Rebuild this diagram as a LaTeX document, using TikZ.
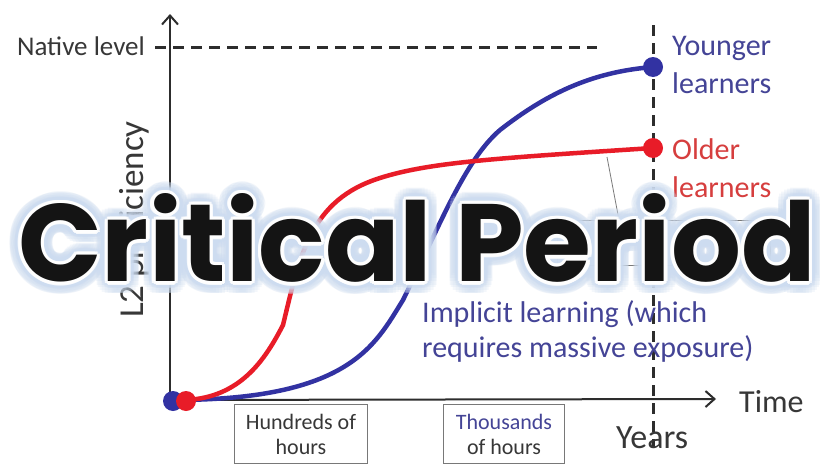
\documentclass[tikz,border=0pt]{standalone}
\usepackage{fontspec}
\setmainfont{Carlito}
\newfontfamily\titlefont{Poppins}
\usetikzlibrary{arrows.meta}
\definecolor{cblue}{RGB}{50,50,162}
\definecolor{tblue}{RGB}{68,68,150}
\definecolor{cred}{RGB}{232,28,40}
\definecolor{tred}{RGB}{214,62,62}
\definecolor{axisgray}{RGB}{45,45,45}
\definecolor{txtgray}{RGB}{55,55,55}
\definecolor{boxgray}{RGB}{120,120,120}
\definecolor{glowblue}{RGB}{205,220,240}
\newcommand{\crittitle}{\resizebox{797pt}{88pt}{\titlefont\bfseries Critical Period}}
\begin{document}
\begin{tikzpicture}[x=1pt,y=-1pt,
  axisline/.style={line width=2pt, draw=axisgray},
  guide/.style={line width=3pt, draw=axisgray, dash pattern=on 11pt off 7pt},
  curveblue/.style={line width=4.5pt, draw=cblue, line cap=round},
  curvered/.style={line width=4.5pt, draw=cred, line cap=round},
  dotblue/.style={circle, fill=cblue, inner sep=0pt, minimum size=20pt},
  dotred/.style={circle, fill=cred, inner sep=0pt, minimum size=20pt},
  bigtext/.style={font=\fontsize{30}{38}\selectfont, inner sep=0pt, align=left},
  hourbox/.style={draw=boxgray, line width=1pt, minimum width=133pt, minimum height=59pt, inner sep=0pt, align=center, font=\fontsize{22}{25}\selectfont, text=txtgray},
  titlepart/.style={anchor=south west, inner sep=0pt}
]
\useasboundingbox[fill=white] (0,0) rectangle (820,466);

% hidden box behind the title
\node[draw=boxgray, line width=0.8pt, minimum width=213pt, minimum height=45pt, inner sep=0pt, anchor=north west] (hidbox) at (557,220) {};
\coordinate (hidtop) at (607,157);
\draw[boxgray, line width=0.8pt] (hidtop) -- (619,220);

% guides
\coordinate (nl0) at (155,47);
\coordinate (nl1) at (597,47);
\draw[guide] (nl0) -- (nl1);
\coordinate (yr0) at (653,25);
\coordinate (yr1) at (653,447);
\draw[guide] (yr0) -- (yr1);

% axes
\coordinate (orig) at (170,400);
\coordinate (ytop) at (170,14);
\coordinate (xend) at (716,399);
\coordinate (ybot) at (170,406);
\draw[axisline, -{Straight Barb[length=9pt,width=16pt,line width=2pt]}] (ybot) -- (ytop);
\draw[axisline, -{Straight Barb[length=9pt,width=16pt,line width=2pt]}] (orig) -- (xend);

% labels
\node[anchor=base east, inner sep=0pt, font=\fontsize{27}{30}\selectfont, text=txtgray] (native) at (145,55) {Native level};
\node[anchor=base west, inner sep=0pt, font=\fontsize{32}{36}\selectfont, text=txtgray] (time) at (739,412) {Time};
\node[anchor=base west, inner sep=0pt, font=\fontsize{34}{36}\selectfont, text=txtgray] (years) at (616,448) {Years};
\node[rotate=90, anchor=base west, inner sep=0pt, font=\fontsize{35}{40}\selectfont, text=txtgray] (ylab) at (143,318) {L2 proficiency};
\node[bigtext, text=tblue, anchor=base west] (young) at (672,93) {Younger\\learners};
\node[bigtext, text=tred, anchor=base west] (old) at (672,197) {Older\\learners};
\node[bigtext, text=tblue, anchor=base west, font=\fontsize{30}{35}\selectfont] (impl) at (422,357) {Implicit learning (which\\requires massive exposure)};

\node[hourbox, anchor=north west] (hund) at (234,404) {Hundreds of\\hours};
\node[hourbox, anchor=north west, minimum width=121pt] (thou) at (443,404) {\textcolor{tblue}{Thousands}\\of hours};

% curves
\coordinate (b0) at (173,400);
\coordinate (b1) at (403,300);
\coordinate (b2) at (500,130);
\coordinate (byoung) at (653,67);
\draw[curveblue] (b0) .. controls (350,400) and (375,345) .. (b1)
  .. controls (440,225) and (465,160) .. (b2)
  .. controls (545,95) and (590,72) .. (byoung);
\coordinate (r0) at (185,400);
\coordinate (r1) at (283,325);
\coordinate (r2) at (380,178);
\coordinate (rold) at (653,148);
\draw[curvered] (r0) .. controls (240,398) and (265,360) .. (r1)
  .. controls (300,255) and (310,200) .. (r2)
  .. controls (430,162) and (500,158) .. (rold);

\node[dotblue] (dyoung) at (byoung) {};
\node[dotred] (dold) at (rold) {};
\node[dotblue] (dob) at (173,401) {};
\node[dotred] (dor) at (186,401) {};

% title with glow
\foreach \a in {0,15,...,345} {
  \node[titlepart, text=glowblue, opacity=0.22] at ({18+12*cos(\a)},{283+12*sin(\a)}) {\crittitle};
  \node[titlepart, text=glowblue, opacity=0.25] at ({18+7*cos(\a)},{283+7*sin(\a)}) {\crittitle};
}
\foreach \a in {0,30,...,330} {
  \node[titlepart, text=white, opacity=0.85] at ({18+3.5*cos(\a)},{283+3.5*sin(\a)}) {\crittitle};
}
\node[titlepart, text=black!92] (title) at (18,283) {\crittitle};
\end{tikzpicture}
\end{document}
